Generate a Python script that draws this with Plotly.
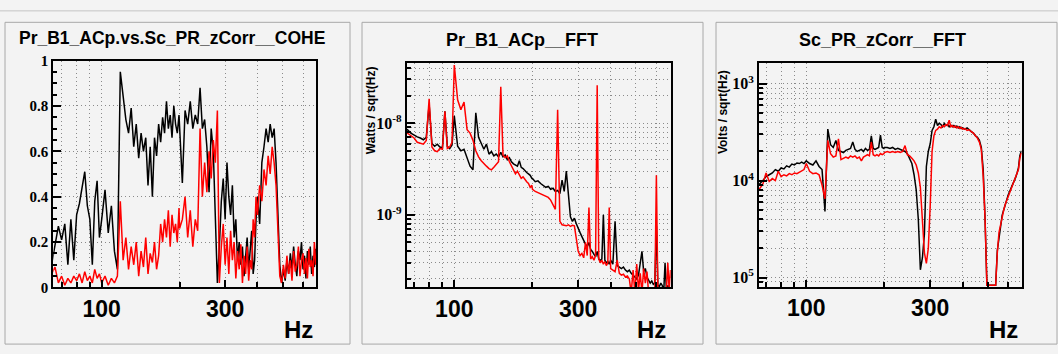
import plotly.graph_objects as go

W, H = 1058, 354

# Frequency bins (Hz)
freq = list(range(64, 100, 2)) + list(range(100, 200, 3)) + list(range(200, 400, 5)) + list(range(400, 690, 8))

# Panel 1: coherence
coh_black = [0.10, 0.18, 0.27, 0.21, 0.28, 0.10, 0.30, 0.12, 0.32, 0.37, 0.44, 0.51, 0.36, 0.30, 0.10, 0.38, 0.47, 0.22,
             0.30, 0.43, 0.24, 0.36, 0.16, 0.08, 0.95, 0.85, 0.74, 0.68, 0.79, 0.62, 0.72, 0.57, 0.68, 0.60, 0.66, 0.45,
             0.62, 0.40, 0.66, 0.58, 0.72, 0.64, 0.75, 0.68, 0.82, 0.70, 0.76, 0.66, 0.80, 0.72, 0.68, 0.76,
             0.70, 0.46, 0.78, 0.72, 0.82, 0.70, 0.76, 0.72, 0.88, 0.70, 0.74, 0.62, 0.42, 0.70, 0.60, 0.25, 0.02, 0.18,
             0.38, 0.48, 0.30, 0.55, 0.40, 0.32, 0.45, 0.22, 0.30, 0.12, 0.20, 0.10, 0.18, 0.05, 0.14, 0.22, 0.08, 0.15,
             0.25, 0.06, 0.12, 0.30,
             0.40, 0.28, 0.55, 0.62, 0.70, 0.64, 0.72, 0.66, 0.70, 0.55, 0.30, 0.10, 0.02, 0.08, 0.03, 0.12, 0.06, 0.15,
             0.08, 0.18, 0.10, 0.05, 0.16, 0.12, 0.20, 0.08, 0.14, 0.04, 0.16, 0.10, 0.18, 0.06, 0.14, 0.09, 0.17, 0.10, 0.12]
coh_red = [0.06, 0.09, 0.02, 0.05, 0.01, 0.04, 0.02, 0.05, 0.03, 0.06, 0.02, 0.07, 0.03, 0.05, 0.02, 0.08, 0.04, 0.06,
           0.02, 0.05, 0.01, 0.04, 0.02, 0.05, 0.38, 0.12, 0.22, 0.08, 0.18, 0.10, 0.20, 0.05, 0.16, 0.09, 0.22, 0.06,
           0.15, 0.11, 0.20, 0.08, 0.14, 0.28, 0.20, 0.30, 0.22, 0.34, 0.18, 0.32, 0.24, 0.28, 0.20, 0.35,
           0.26, 0.30, 0.40, 0.22, 0.34, 0.18, 0.30, 0.25, 0.70, 0.40, 0.55, 0.42, 0.60, 0.48, 0.65, 0.55, 0.78, 0.02,
           0.18, 0.28, 0.10, 0.22, 0.06, 0.25, 0.12, 0.20, 0.04, 0.16, 0.08, 0.19, 0.02, 0.14, 0.06, 0.18, 0.03, 0.12,
           0.08, 0.30, 0.22, 0.40,
           0.32, 0.45, 0.38, 0.52, 0.45, 0.58, 0.50, 0.62, 0.55, 0.45, 0.25, 0.05, 0.02, 0.10, 0.04, 0.14, 0.06, 0.12,
           0.03, 0.16, 0.07, 0.10, 0.18, 0.05, 0.12, 0.15, 0.06, 0.13, 0.04, 0.17, 0.09, 0.12, 0.05, 0.20, 0.10, 0.15, 0.12]

# Panel 2: Pr_B1_ACp FFT (Watts / sqrt(Hz))
fftb_black = [8.7e-9, 8.5e-9, 7.8e-9, 7.4e-9, 7.1e-9, 6.9e-9, 6.6e-9, 7.0e-9, 1.6e-8, 6.0e-9, 5.6e-9, 5.9e-9, 5.5e-9,
              5.4e-9, 1.35e-8, 5.6e-9, 5.3e-9, 5.8e-9,
              1.2e-8, 5.6e-9, 5.0e-9, 5.2e-9, 4.2e-9, 3.4e-9, 3.1e-9, 1.3e-8, 7.0e-9, 6.0e-9, 5.2e-9, 5.9e-9, 4.6e-9,
              4.9e-9, 4.4e-9, 4.6e-9, 4.3e-9, 4.8e-9, 4.3e-9, 4.5e-9, 4.0e-9, 4.2e-9, 3.8e-9, 3.6e-9, 3.5e-9, 3.4e-9,
              3.9e-9, 3.3e-9, 3.2e-9, 3.0e-9, 2.9e-9, 2.8e-9, 2.7e-9, 2.5e-9,
              2.5e-9, 2.3e-9, 2.35e-9, 2.2e-9, 2.1e-9, 2.0e-9, 2.05e-9, 1.9e-9, 1.95e-9, 1.8e-9, 1.85e-9, 1.7e-9,
              2.4e-9, 1.8e-9, 3.0e-9, 1.6e-9, 9.5e-10, 8.5e-10, 9.2e-10, 8.0e-10, 7.0e-10, 6.4e-10, 5.8e-10, 5.2e-10,
              4.8e-10, 4.5e-10, 5.0e-10, 4.2e-10, 4.0e-10, 3.7e-10, 3.5e-10, 4.0e-10, 3.3e-10, 3.2e-10, 3.3e-10,
              1.0e-9, 3.2e-10, 3.0e-10, 3.1e-10, 2.9e-10,
              3.2e-10, 2.9e-10, 8.5e-10, 2.8e-10, 2.7e-10, 2.6e-10, 2.7e-10, 2.5e-10, 2.4e-10, 2.5e-10, 2.3e-10,
              2.2e-10, 2.1e-10, 2.0e-10, 2.2e-10, 3.0e-10, 4.0e-10, 2.4e-10, 2.6e-10, 2.1e-10, 1.9e-10, 1.8e-10,
              1.9e-10, 1.75e-10, 1.8e-10, 7.6e-10, 1.7e-10, 1.65e-10, 1.8e-10, 1.7e-10, 1.4e-10, 3.0e-10, 1.5e-10,
              1.7e-10, 1.6e-10, 1.6e-10, 1.6e-10]
fftb_red = [8.3e-9, 7.8e-9, 7.2e-9, 6.9e-9, 6.2e-9, 6.0e-9, 5.9e-9, 6.5e-9, 1.85e-8, 5.5e-9, 5.0e-9, 4.9e-9, 5.3e-9,
            5.2e-9, 1.35e-8, 5.3e-9, 5.5e-9, 6.2e-9,
            4.3e-8, 1.8e-8, 1.4e-8, 1.7e-8, 8.5e-9, 7.8e-9, 6.5e-9, 5.0e-9, 4.3e-9, 3.9e-9, 3.6e-9, 3.4e-9, 3.2e-9,
            3.1e-9, 3.3e-9, 3.5e-9, 3.8e-9, 2.5e-8, 4.5e-9, 4.2e-9, 4.4e-9, 3.8e-9, 3.4e-9, 3.0e-9, 2.8e-9, 3.0e-9,
            2.7e-9, 2.5e-9, 2.6e-9, 2.4e-9, 2.3e-9, 2.2e-9, 2.0e-9, 2.1e-9,
            1.9e-9, 1.8e-9, 1.75e-9, 1.7e-9, 1.65e-9, 1.6e-9, 1.55e-9, 1.45e-9, 1.3e-9, 1.15e-9, 1.4e-8, 8.5e-10,
            7.8e-10, 7.7e-10, 7.6e-10, 7.8e-10, 7.5e-10, 7.7e-10, 7.6e-10, 5.5e-10, 4.0e-10, 3.6e-10, 3.8e-10,
            3.4e-10, 5.0e-10, 3.6e-10, 1.2e-9, 3.3e-10, 3.5e-10, 3.2e-10, 3.6e-10, 2.6e-8, 3.3e-10, 3.0e-10,
            3.2e-10, 2.9e-10, 3.1e-10, 2.8e-10, 3.0e-10, 1.2e-9,
            2.6e-10, 2.5e-10, 2.4e-10, 3.2e-10, 2.3e-10, 2.2e-10, 2.25e-10, 2.1e-10, 2.15e-10, 2.0e-10, 1.4e-10,
            2.5e-10, 1.4e-10, 2.9e-10, 1.5e-10, 2.3e-10, 1.4e-10, 2.6e-10, 1.8e-10, 2.4e-10, 1.4e-10, 1.4e-10,
            1.4e-10, 1.4e-10, 1.5e-10, 2.7e-9, 1.4e-10, 1.4e-10, 1.4e-10, 1.4e-10, 1.4e-10, 1.4e-10, 1.5e-10,
            3.0e-10, 1.5e-10, 2.5e-10, 2.0e-10]

# Panel 3: Sc_PR_zCorr FFT (Volts / sqrt(Hz))
ffts_black = [8.8e-5, 9.2e-5, 1.0e-4, 1.1e-4, 1.15e-4, 1.2e-4, 1.3e-4, 1.25e-4, 1.35e-4, 1.32e-4, 1.42e-4, 1.38e-4,
              1.48e-4, 1.45e-4, 1.52e-4, 1.5e-4, 1.55e-4, 1.5e-4,
              1.6e-4, 1.5e-4, 1.45e-4, 1.6e-4, 1.4e-4, 1.3e-4, 4.8e-5, 3.4e-4, 2.35e-4, 2.2e-4, 2.6e-4, 2.05e-4,
              2.0e-4, 1.95e-4, 2.05e-4, 2.1e-4, 2.15e-4, 2.5e-4, 2.1e-4, 2.0e-4, 2.05e-4, 2.1e-4, 2.0e-4, 2.15e-4,
              2.05e-4, 2.1e-4, 2.9e-4, 2.15e-4, 2.1e-4, 2.15e-4, 2.2e-4, 2.95e-4, 2.2e-4, 2.15e-4,
              2.2e-4, 2.2e-4, 2.15e-4, 2.2e-4, 2.1e-4, 2.15e-4, 2.1e-4, 2.05e-4, 2.0e-4, 1.9e-4, 1.7e-4, 1.5e-4,
              1.15e-4, 8.0e-5, 4.0e-5, 1.2e-5, 1.6e-5, 2.8e-5, 1.4e-4, 2.0e-4, 2.4e-4, 3.3e-4, 3.6e-4, 4.3e-4,
              3.7e-4, 3.9e-4, 3.8e-4, 3.6e-4, 3.9e-4, 3.7e-4, 3.8e-4, 3.6e-4, 3.75e-4, 3.6e-4, 3.7e-4, 3.55e-4,
              3.65e-4, 3.5e-4, 3.6e-4, 3.45e-4,
              3.5e-4, 3.4e-4, 3.5e-4, 3.3e-4, 3.2e-4, 3.1e-4, 2.9e-4, 2.8e-4, 2.6e-4, 2.2e-4, 1.3e-4, 4.0e-5,
              8.3e-6, 8.3e-6, 8.3e-6, 8.3e-6, 8.3e-6, 8.3e-6, 1.9e-5, 2.6e-5, 3.3e-5, 4.4e-5, 5.0e-5, 5.8e-5,
              6.4e-5, 7.2e-5, 7.8e-5, 8.5e-5, 9.2e-5, 1.0e-4, 1.08e-4, 1.2e-4, 1.35e-4, 1.8e-4, 2.0e-4, 2.0e-4, 2.0e-4]
ffts_red = [7.8e-5, 8.2e-5, 9.2e-5, 1.2e-4, 9.8e-5, 1.05e-4, 1.0e-4, 1.25e-4, 1.1e-4, 1.15e-4, 1.12e-4, 1.18e-4,
            1.15e-4, 1.2e-4, 1.18e-4, 1.22e-4, 1.25e-4, 1.3e-4,
            1.5e-4, 1.25e-4, 1.18e-4, 1.2e-4, 1.15e-4, 9.0e-5, 6.5e-5, 2.6e-4, 1.9e-4, 1.75e-4, 1.8e-4, 2.7e-4,
            1.65e-4, 1.7e-4, 1.75e-4, 1.7e-4, 1.8e-4, 1.75e-4, 1.8e-4, 1.7e-4, 1.75e-4, 1.6e-4, 1.75e-4, 1.8e-4,
            1.85e-4, 1.8e-4, 2.5e-4, 1.85e-4, 1.8e-4, 1.85e-4, 1.8e-4, 1.9e-4, 1.85e-4, 1.9e-4,
            1.95e-4, 2.0e-4, 1.95e-4, 2.0e-4, 1.95e-4, 2.0e-4, 1.95e-4, 2.0e-4, 2.3e-4, 1.85e-4, 1.8e-4, 1.7e-4,
            1.6e-4, 1.45e-4, 1.2e-4, 8.5e-5, 4.0e-5, 1.8e-5, 1.4e-5, 2.0e-5, 5.5e-5, 2.0e-4, 2.9e-4, 3.3e-4,
            3.4e-4, 3.6e-4, 3.5e-4, 3.7e-4, 3.6e-4, 3.8e-4, 3.7e-4, 4.2e-4, 3.6e-4, 3.7e-4, 3.55e-4, 3.65e-4,
            3.5e-4, 3.6e-4, 3.45e-4, 3.55e-4,
            3.4e-4, 3.45e-4, 3.3e-4, 3.35e-4, 3.2e-4, 3.1e-4, 2.9e-4, 2.75e-4, 2.5e-4, 2.1e-4, 1.1e-4, 4.0e-5,
            8.3e-6, 8.3e-6, 8.3e-6, 8.3e-6, 8.3e-6, 8.3e-6, 1.8e-5, 2.9e-5, 3.5e-5, 4.4e-5, 5.0e-5, 5.7e-5,
            6.3e-5, 7.0e-5, 7.7e-5, 8.4e-5, 9.0e-5, 9.8e-5, 1.07e-4, 1.18e-4, 1.3e-4, 1.7e-4, 1.9e-4, 1.9e-4, 1.9e-4]

titles = ["Pr_B1_ACp.vs.Sc_PR_zCorr__COHE", "Pr_B1_ACp__FFT", "Sc_PR_zCorr__FFT"]
ytitles = ["", "Watts / sqrt(Hz)", "Volts / sqrt(Hz)"]
x_labeled = [100, 300]
x_labels = ["100", "300"]
x_unlabeled = [70, 80, 90, 200, 400, 500, 600]

BG = "#f3f3f3"
GRID = "#8a8a8a"
DOT = "1px,3px"
SANS = "Liberation Sans, Arial, sans-serif"
SERIF = "Liberation Serif, Times New Roman, serif"


def px(v):
    return v / W


def py(v):
    return 1 - v / H


# plot areas in pixels: (left, right, top, bottom)
areas = [(53.3, 316.0, 55.0, 292.7), (406.7, 670.7, 57.3, 292.7), (759.0, 1021.5, 57.3, 291.7)]
xranges = [[1.8129, 2.8284], [1.8167, 2.8333], [1.8179, 2.8287]]

fig = go.Figure()
series = [(coh_black, coh_red), (fftb_black, fftb_red), (ffts_black, ffts_red)]
for i, (blk, red) in enumerate(series):
    xa = "x" if i == 0 else f"x{i+1}"
    ya = "y" if i == 0 else f"y{i+1}"
    fig.add_trace(go.Scatter(x=freq, y=blk, mode="lines", line=dict(color="black", width=1.5),
                             xaxis=xa, yaxis=ya, showlegend=False, hoverinfo="skip"))
    fig.add_trace(go.Scatter(x=freq, y=red, mode="lines", line=dict(color="#ff0000", width=1.5),
                             xaxis=xa, yaxis=ya, showlegend=False, hoverinfo="skip"))

layout = dict(width=W, height=H, margin=dict(l=0, r=0, t=0, b=0), paper_bgcolor=BG, plot_bgcolor=BG,
              showlegend=False)

for i, (l, r, t, b) in enumerate(areas):
    sfx = "" if i == 0 else str(i + 1)
    layout["xaxis" + sfx] = dict(
        type="log", range=xranges[i], domain=[px(l), px(r)], anchor="y" + sfx,
        tickmode="array", tickvals=x_labeled, ticktext=x_labels,
        ticks="inside", ticklen=7, tickwidth=1.5, tickcolor="black",
        showline=True, linecolor="black", linewidth=2, mirror=True,
        showgrid=True, gridcolor=GRID, griddash=DOT, gridwidth=1, zeroline=False,
        minor=dict(tickmode="array", tickvals=x_unlabeled, ticks="inside", ticklen=5, tickcolor="black",
                   tickwidth=1.5, showgrid=True, gridcolor=GRID, griddash=DOT, gridwidth=1),
        tickfont=dict(family=SANS, size=23, color="black", weight="bold"),
        fixedrange=True,
    )

# y axes
layout["yaxis"] = dict(
    range=[0, 1], domain=[py(areas[0][3]), py(areas[0][2])], anchor="x",
    tickmode="array", tickvals=[0, 0.2, 0.4, 0.6, 0.8, 1], ticktext=["0", "0.2", "0.4", "0.6", "0.8", "1"],
    ticks="inside", ticklen=8, tickwidth=1.5, tickcolor="black",
    showline=True, linecolor="black", linewidth=2, mirror=True,
    showgrid=True, gridcolor=GRID, griddash=DOT, gridwidth=1, zeroline=False,
    minor=dict(tickmode="array", tickvals=[0.05, 0.1, 0.15, 0.25, 0.3, 0.35, 0.45, 0.5, 0.55, 0.65, 0.7, 0.75,
                                           0.85, 0.9, 0.95],
               ticks="inside", ticklen=4, tickcolor="black", tickwidth=1.5, showgrid=False),
    tickfont=dict(family=SERIF, size=15, color="black", weight="bold"), fixedrange=True,
)
minor2 = [2e-10, 3e-10, 4e-10, 5e-10, 6e-10, 7e-10, 8e-10, 9e-10,
          2e-9, 3e-9, 4e-9, 5e-9, 6e-9, 7e-9, 8e-9, 9e-9, 2e-8, 3e-8, 4e-8]
layout["yaxis2"] = dict(
    type="log", range=[-9.792, -7.340], domain=[py(areas[1][3]), py(areas[1][2])], anchor="x2",
    tickmode="array", tickvals=[1e-9, 1e-8], ticktext=["10<sup>-9</sup>", "10<sup>-8</sup>"],
    ticks="inside", ticklen=8, tickwidth=1.5, tickcolor="black",
    showline=True, linecolor="black", linewidth=2, mirror=True,
    showgrid=True, gridcolor=GRID, griddash=DOT, gridwidth=1, zeroline=False,
    minor=dict(tickmode="array", tickvals=minor2, ticks="inside", ticklen=4, tickcolor="black", tickwidth=1.5,
               showgrid=True, gridcolor=GRID, griddash=DOT, gridwidth=1),
    tickfont=dict(family=SERIF, size=16, color="black", weight="bold"), fixedrange=True,
)
minor3 = [9e-6, 2e-5, 3e-5, 4e-5, 5e-5, 6e-5, 7e-5, 8e-5, 9e-5,
          2e-4, 3e-4, 4e-4, 5e-4, 6e-4, 7e-4, 8e-4, 9e-4]
layout["yaxis3"] = dict(
    type="log", range=[-5.093, -2.783], domain=[py(areas[2][3]), py(areas[2][2])], anchor="x3",
    tickmode="array", tickvals=[1e-5, 1e-4, 1e-3], ticktext=["10<sup>5</sup>", "10<sup>4</sup>", "10<sup>3</sup>"],
    ticks="inside", ticklen=8, tickwidth=1.5, tickcolor="black",
    showline=True, linecolor="black", linewidth=2, mirror=True,
    showgrid=True, gridcolor=GRID, griddash=DOT, gridwidth=1, zeroline=False,
    minor=dict(tickmode="array", tickvals=minor3, ticks="inside", ticklen=4, tickcolor="black", tickwidth=1.5,
               showgrid=True, gridcolor=GRID, griddash=DOT, gridwidth=1),
    tickfont=dict(family=SERIF, size=16, color="black", weight="bold"), fixedrange=True,
)

fig.update_layout(**layout)

annotations = []
title_pos = [(171.5, 31.0, 17.5), (522.0, 33.0, 18), (882.0, 33.0, 18)]
for i, (cx, cy, fs) in enumerate(title_pos):
    annotations.append(dict(text=titles[i], x=px(cx), y=py(cy), xref="paper", yref="paper",
                            xanchor="center", yanchor="middle", showarrow=False,
                            font=dict(family=SANS, size=fs, color="black", weight="bold")))
hz_pos = [315.0, 668.0, 1020.0]
for xr in hz_pos:
    annotations.append(dict(text="Hz", x=px(xr), y=py(337), xref="paper", yref="paper",
                            xanchor="right", yanchor="middle", showarrow=False,
                            font=dict(family=SANS, size=24, color="black", weight="bold")))
yt_pos = [(371.0, 107.0), (723.0, 109.0)]
for (cx, cy), txt in zip(yt_pos, ytitles[1:]):
    annotations.append(dict(text=txt, x=px(cx), y=py(cy), xref="paper", yref="paper", textangle=-90,
                            xanchor="center", yanchor="middle", showarrow=False,
                            font=dict(family=SANS, size=12, color="black", weight="bold")))

shapes = [dict(type="line", xref="paper", yref="paper", x0=0, x1=1, y0=py(3), y1=py(3),
               line=dict(color="#c4c4c4", width=1))]
pads = [(5, 350), (362, 703), (716, 1057)]
for x0, x1 in pads:
    shapes.append(dict(type="rect", xref="paper", yref="paper", x0=px(x0), x1=px(x1), y0=py(352), y1=py(15),
                       line=dict(color="#a8a8a8", width=1), fillcolor="rgba(0,0,0,0)", layer="below"))

fig.update_layout(annotations=annotations, shapes=shapes)
fig.write_html("out.html")
